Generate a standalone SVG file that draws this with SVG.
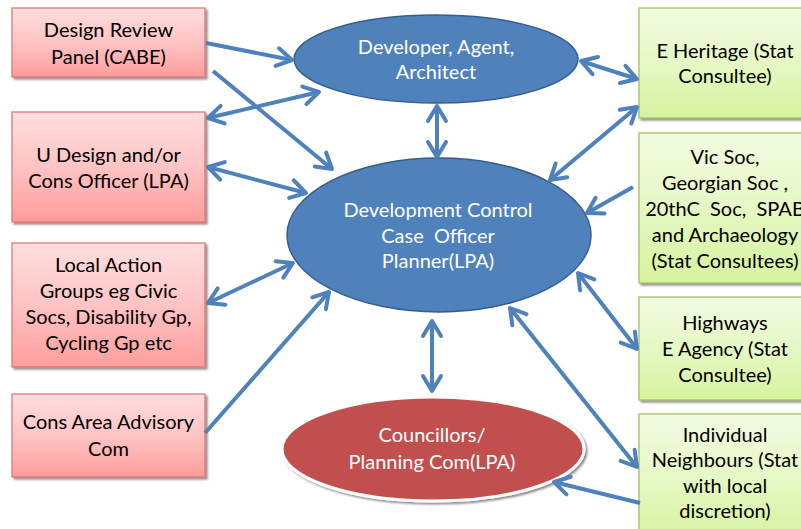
<svg xmlns="http://www.w3.org/2000/svg" width="801" height="529" viewBox="0 0 801 529">
<defs>
<linearGradient id="gPink" x1="0" y1="0" x2="0" y2="1">
<stop offset="0" stop-color="#FFDEDE"/>
<stop offset="0.5" stop-color="#FFC4C4"/>
<stop offset="1" stop-color="#FF9C9C"/>
</linearGradient>
<linearGradient id="gGreen" x1="0" y1="0" x2="0" y2="1">
<stop offset="0" stop-color="#F2FBE2"/>
<stop offset="0.5" stop-color="#E5F8C4"/>
<stop offset="1" stop-color="#D6F39E"/>
</linearGradient>
<marker id="ah" viewBox="-20 -12 24 24" refX="0" refY="0" markerWidth="24" markerHeight="24" markerUnits="userSpaceOnUse" orient="auto-start-reverse">
<path d="M -15 -9 L 0 0 L -15 9" fill="none" stroke="#4F81BD" stroke-width="4" stroke-linecap="round" stroke-linejoin="round"/>
</marker>
<filter id="sh" x="-10%" y="-10%" width="130%" height="130%">
<feGaussianBlur in="SourceAlpha" stdDeviation="1.2"/>
<feOffset dx="2" dy="2" result="b"/>
<feComponentTransfer><feFuncA type="linear" slope="0.45"/></feComponentTransfer>
<feMerge><feMergeNode/><feMergeNode in="SourceGraphic"/></feMerge>
</filter>
</defs>
<style>
.pk{fill:url(#gPink);stroke:#E06F6F;stroke-width:1.2;filter:url(#sh)}
.gr{fill:url(#gGreen);stroke:#9BBB59;stroke-width:1.2;filter:url(#sh)}
.bt{font-family:Lato,"Liberation Sans",sans-serif;font-size:20px;fill:#000;text-anchor:middle}
.wt{font-family:Lato,"Liberation Sans",sans-serif;font-size:20px;fill:#fff;text-anchor:middle}
.bl{fill:#4F81BD;stroke:#385D8A;stroke-width:1.5}
.c{fill:none;stroke:#4F81BD;stroke-width:4}
.s{marker-end:url(#ah)}
.d{marker-start:url(#ah);marker-end:url(#ah)}
</style>
<rect width="801" height="529" fill="#fff"/>
<g id="n-cabe"><rect class="pk" x="12" y="8" width="193" height="69"/>
<text class="bt" x="108.5" y="37">Design Review</text><text class="bt" x="108.5" y="64">Panel (CABE)</text></g>
<g id="n-udesign"><rect class="pk" x="12" y="112" width="193" height="110"/>
<text class="bt" x="108.5" y="162">U Design and/or</text><text class="bt" x="108.5" y="188">Cons Officer (LPA)</text></g>
<g id="n-local"><rect class="pk" x="12" y="243" width="193" height="124"/>
<text class="bt" x="108.5" y="272">Local Action</text><text class="bt" x="108.5" y="298">Groups eg Civic</text><text class="bt" x="108.5" y="324">Socs, Disability Gp,</text><text class="bt" x="108.5" y="350">Cycling Gp etc</text></g>
<g id="n-consarea"><rect class="pk" x="12" y="394" width="193" height="83"/>
<text class="bt" x="108.5" y="429">Cons Area Advisory</text><text class="bt" x="108.5" y="456">Com</text></g>
<g id="n-eheritage"><rect class="gr" x="639" y="8" width="180" height="110"/>
<text class="bt" x="725" y="58">E Heritage (Stat</text><text class="bt" x="725" y="83">Consultee)</text></g>
<g id="n-vicsoc"><rect class="gr" x="639" y="133" width="180" height="150"/>
<text class="bt" x="725" y="164">Vic Soc,</text><text class="bt" x="725" y="190">Georgian Soc ,</text><text class="bt" x="725" y="216" xml:space="preserve">20thC  Soc,  SPAB</text><text class="bt" x="725" y="242">and Archaeology</text><text class="bt" x="725" y="268">(Stat Consultees)</text></g>
<g id="n-highways"><rect class="gr" x="639" y="297" width="180" height="103"/>
<text class="bt" x="725" y="330">Highways</text><text class="bt" x="725" y="356">E Agency (Stat</text><text class="bt" x="725" y="382">Consultee)</text></g>
<g id="n-neighbours"><rect class="gr" x="639" y="414" width="180" height="130"/>
<text class="bt" x="725" y="442">Individual</text><text class="bt" x="725" y="467">Neighbours (Stat</text><text class="bt" x="725" y="493">with local</text><text class="bt" x="725" y="518">discretion)</text></g>
<g id="n-developer"><ellipse class="bl" cx="436" cy="59" rx="142" ry="44"/>
<text class="wt" x="436" y="54">Developer, Agent,</text><text class="wt" x="436" y="79">Architect</text></g>
<g id="n-devcontrol"><ellipse class="bl" cx="439" cy="235" rx="152" ry="77"/>
<text class="wt" x="438" y="217">Development Control</text><text class="wt" x="438" y="243" xml:space="preserve">Case  Officer</text><text class="wt" x="438" y="268">Planner(LPA)</text></g>
<g id="n-councillors"><ellipse cx="433" cy="449" rx="151" ry="52" fill="#C0504D" stroke="#fff" stroke-width="3" filter="url(#sh)"/>
<text class="wt" x="432" y="442">Councillors/</text><text class="wt" x="432" y="469">Planning Com(LPA)</text></g>
<g id="connectors">
<line class="c s" x1="206" y1="43" x2="292" y2="60"/>
<line class="c s" x1="213" y1="71" x2="332" y2="169"/>
<line class="c d" x1="208" y1="118" x2="319" y2="92"/>
<line class="c d" x1="208" y1="167" x2="306" y2="193"/>
<line class="c d" x1="208" y1="303" x2="293" y2="263"/>
<line class="c s" x1="205" y1="433" x2="329" y2="292"/>
<line class="c d" x1="437" y1="106" x2="437" y2="157"/>
<line class="c d" x1="581" y1="61" x2="637" y2="79"/>
<line class="c d" x1="637" y1="107" x2="550" y2="180"/>
<line class="c s" x1="633" y1="187" x2="587" y2="213"/>
<line class="c d" x1="578" y1="273" x2="637" y2="349"/>
<line class="c d" x1="510" y1="308" x2="637" y2="467"/>
<line class="c d" x1="432" y1="321" x2="432" y2="391"/>
<line class="c s" x1="640" y1="503" x2="554" y2="482"/>
</g>
</svg>
